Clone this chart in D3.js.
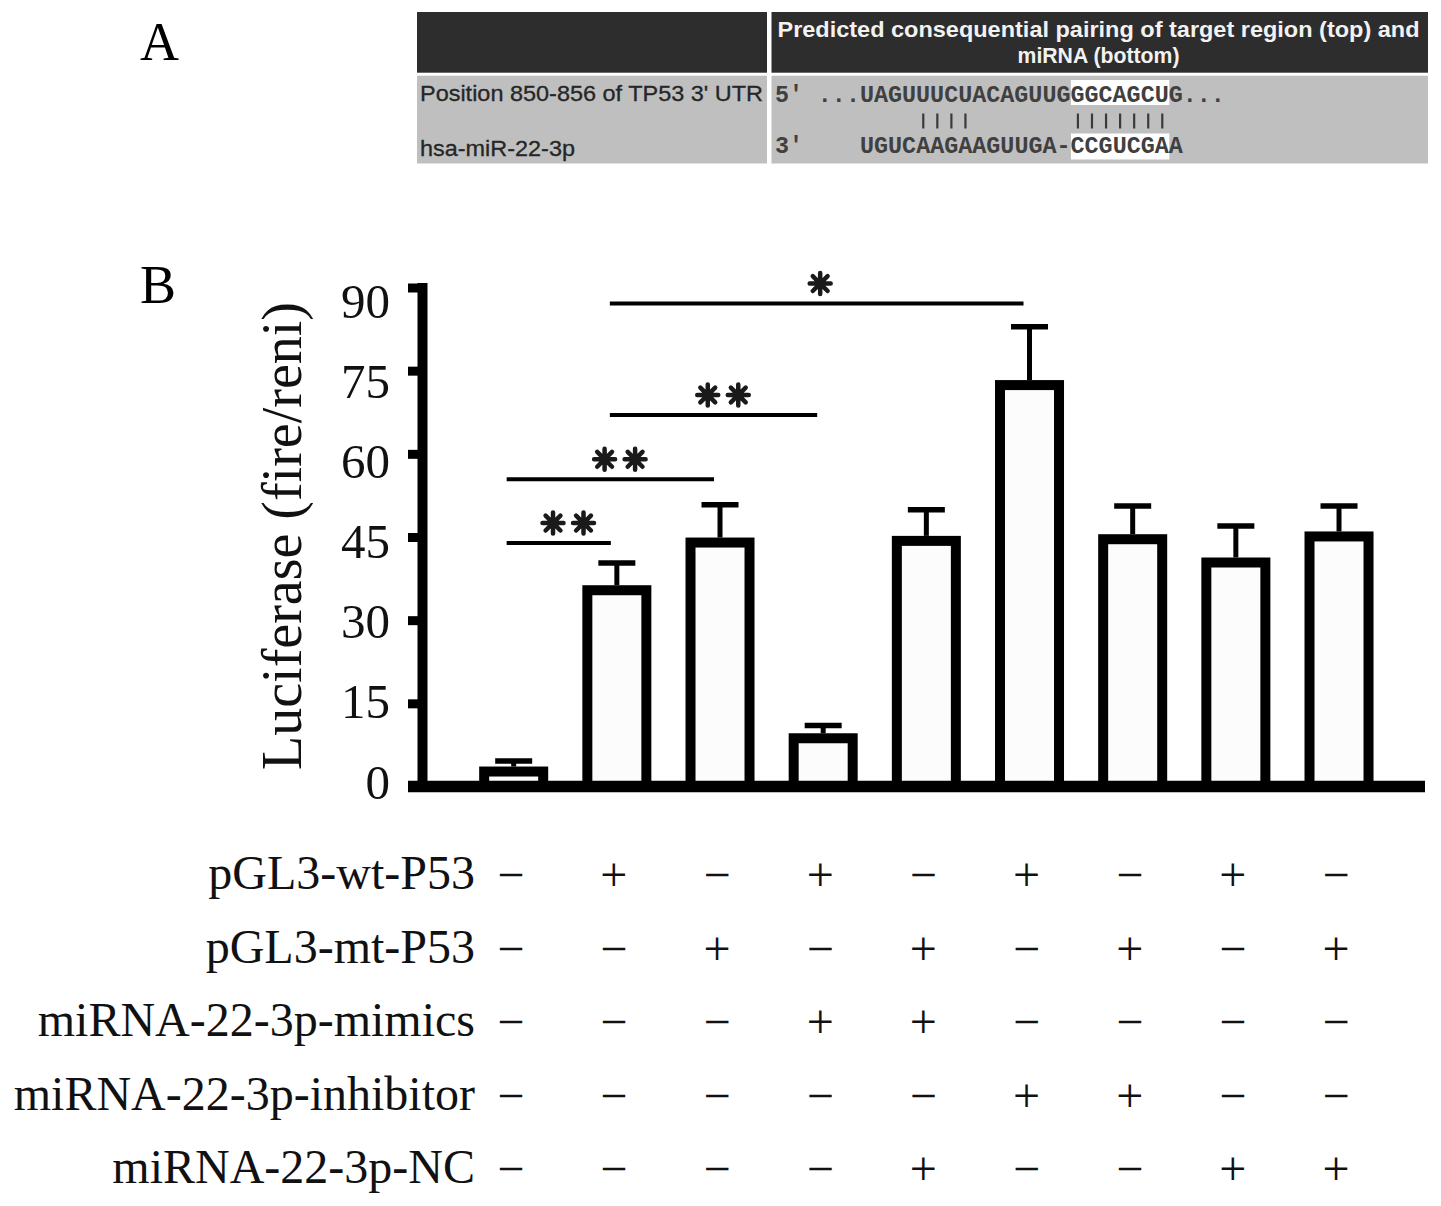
<!DOCTYPE html>
<html>
<head>
<meta charset="utf-8">
<script src="https://cdn.jsdelivr.net/npm/d3@7"></script>
<style>
  html, body { margin: 0; padding: 0; background: #fff; }
  svg { display: block; }
  .serif { font-family: "Liberation Serif", "Times New Roman", serif; }
  .sans { font-family: "Liberation Sans", Arial, sans-serif; }
  .mono { font-family: "Liberation Mono", "Courier New", monospace; white-space: pre; }
</style>
</head>
<body>
<svg id="fig" width="1441" height="1206"></svg>
<script>
// ---- panel A: predicted pairing table ----
const rowNames = ["Position 850-856 of TP53 3' UTR", "hsa-miR-22-3p"];
const headerLines = ["Predicted consequential pairing of target region (top) and", "miRNA (bottom)"];
const strandEnds = ["5'", "3'"];
const targetSeq = "...UAGUUUCUACAGUUGGGCAGCUG...";
const mirnaSeq = "UGUCAAGAAGUUGA-CCGUCGAA";
const pairedIdx = [4, 5, 6, 7, 15, 16, 17, 18, 19, 20, 21];
const seedRange = [15, 22];

// ---- panel B: luciferase bars ----
const groups = ["g1", "g2", "g3", "g4", "g5", "g6", "g7", "g8", "g9"];
const luciferase = [2.7, 35.4, 44.0, 8.7, 44.3, 72.4, 44.6, 40.4, 45.1];
const errUp = [1.9, 4.9, 6.8, 2.3, 5.6, 10.5, 6.0, 6.6, 5.5];
const yTicks = [0, 15, 30, 45, 60, 75, 90];

// significance brackets
const sigFrom = [0, 0, 1, 1];
const sigTo = [1, 2, 3, 5];
const sigLevel = [43.9, 55.4, 67.0, 87.1];
const sigStars = [2, 2, 2, 1];

// treatment matrix under the bars
const treatments = ["pGL3-wt-P53", "pGL3-mt-P53", "miRNA-22-3p-mimics", "miRNA-22-3p-inhibitor", "miRNA-22-3p-NC"];
const treatmentSigns = [
  "-+-+-+-+-",
  "--+-+-+-+",
  "---++----",
  "-----++--",
  "----+--++"
];

const svg = d3.select("#fig");

// ================= Panel A =================
const A = svg.append("g");
A.append("text").attr("class", "serif").attr("x", 140).attr("y", 60)
  .attr("font-size", 54).text("A");

const tbl = { x0: 417, x1: 1428, split: 769, top: 12, headB: 72.7, bodyT: 75.7, bottom: 163.5 };
A.append("rect").attr("x", tbl.x0).attr("y", tbl.top).attr("width", tbl.split - tbl.x0 - 2)
  .attr("height", tbl.headB - tbl.top).attr("fill", "#2d2d2d");
A.append("rect").attr("x", tbl.split + 2.5).attr("y", tbl.top).attr("width", tbl.x1 - tbl.split - 2.5)
  .attr("height", tbl.headB - tbl.top).attr("fill", "#2d2d2d");
A.append("rect").attr("x", tbl.x0).attr("y", tbl.bodyT).attr("width", tbl.split - tbl.x0 - 2)
  .attr("height", tbl.bottom - tbl.bodyT).attr("fill", "#bfbfbf");
A.append("rect").attr("x", tbl.split + 2.5).attr("y", tbl.bodyT).attr("width", tbl.x1 - tbl.split - 2.5)
  .attr("height", tbl.bottom - tbl.bodyT).attr("fill", "#bfbfbf");

const headCx = (tbl.split + tbl.x1) / 2;
A.selectAll("text.head").data(headerLines).enter().append("text")
  .attr("class", "sans head")
  .attr("x", headCx).attr("y", (d, i) => 37 + i * 26)
  .attr("text-anchor", "middle").attr("font-size", 21.5).attr("font-weight", "bold")
  .attr("fill", "#f2f2f2")
  .attr("textLength", (d, i) => i === 0 ? 642 : 162)
  .attr("lengthAdjust", "spacingAndGlyphs")
  .text(d => d);

const rowBase = [100.5, 156];
A.selectAll("text.rowname").data(rowNames).enter().append("text")
  .attr("class", "sans rowname")
  .attr("x", 420).attr("y", (d, i) => rowBase[i])
  .attr("font-size", 22).attr("fill", "#262626")
  .attr("stroke", "#262626").attr("stroke-width", 0.3)
  .attr("textLength", (d, i) => i === 0 ? 343 : 155)
  .attr("lengthAdjust", "spacingAndGlyphs")
  .text(d => d);

// character grid for the monospace sequences
const charW = 14.06;
const seqStart = 860;
const cx = d3.scaleLinear().domain([0, 1]).range([seqStart, seqStart + charW]);
const seqBase = [101.5, 153];

// white highlight of the seed match
A.selectAll("rect.seed").data([[80, 105], [133.5, 159.5]]).enter().append("rect")
  .attr("x", cx(seedRange[0])).attr("width", cx(seedRange[1]) - cx(seedRange[0]))
  .attr("y", d => d[0]).attr("height", d => d[1] - d[0]).attr("fill", "#ffffff");

A.selectAll("text.end").data(strandEnds).enter().append("text")
  .attr("class", "mono end").attr("x", 775).attr("y", (d, i) => seqBase[i])
  .attr("font-size", 23.4).attr("font-weight", "bold").attr("fill", "#404040").text(d => d);

A.append("text").attr("class", "mono").attr("x", cx(-3)).attr("y", seqBase[0])
  .attr("font-size", 23.4).attr("font-weight", "bold").attr("fill", "#404040").text(targetSeq);
A.append("text").attr("class", "mono").attr("x", cx(0)).attr("y", seqBase[1])
  .attr("font-size", 23.4).attr("font-weight", "bold").attr("fill", "#404040").text(mirnaSeq);

A.selectAll("line.pair").data(pairedIdx).enter().append("line")
  .attr("x1", d => cx(d + 0.5)).attr("x2", d => cx(d + 0.5))
  .attr("y1", 113.5).attr("y2", 128.5)
  .attr("stroke", "#3a3a3a").attr("stroke-width", 2.2);

// ================= Panel B =================
const B = svg.append("g");
B.append("text").attr("class", "serif").attr("x", 140).attr("y", 303)
  .attr("font-size", 54).text("B");

const axisX = 422;
const tickLen = 14;
const y = d3.scaleLinear().domain([0, 90]).range([786.5, 287.5]);
const yLab = d3.scaleLinear().domain([0, 90]).range([782, 301]); // label centres drift a little in the original
const x = d3.scaleBand().domain(groups).range([462.1, 1390.6])
  .paddingInner(0.428).paddingOuter(0.214);
const xc = i => x(groups[i]) + x.bandwidth() / 2;

// bars
B.selectAll("rect.bar").data(luciferase).enter().append("rect")
  .attr("class", "bar")
  .attr("x", (d, i) => x(groups[i])).attr("width", x.bandwidth())
  .attr("y", d => y(d)).attr("height", d => y(0) - y(d))
  .attr("fill", "#fcfcfc").attr("stroke", "#000").attr("stroke-width", 10);

// error bars
B.selectAll("line.err").data(luciferase).enter().append("line")
  .attr("x1", (d, i) => xc(i)).attr("x2", (d, i) => xc(i))
  .attr("y1", d => y(d) - 5).attr("y2", (d, i) => y(d + errUp[i]))
  .attr("stroke", "#000").attr("stroke-width", 5);
B.selectAll("line.cap").data(luciferase).enter().append("line")
  .attr("x1", (d, i) => xc(i) - 18.5).attr("x2", (d, i) => xc(i) + 18.5)
  .attr("y1", (d, i) => y(d + errUp[i])).attr("y2", (d, i) => y(d + errUp[i]))
  .attr("stroke", "#000").attr("stroke-width", 5.5);

// y axis
const yAxis = B.append("g").attr("transform", `translate(${axisX},0)`)
  .call(d3.axisLeft(y).tickValues(yTicks).tickSize(tickLen).tickSizeOuter(0).tickFormat(""));
yAxis.select(".domain").attr("stroke", "#000").attr("stroke-width", 10).attr("stroke-linecap", "square");
yAxis.selectAll(".tick line").attr("stroke", "#000").attr("stroke-width", 9);

B.selectAll("text.ylab").data(yTicks).enter().append("text")
  .attr("class", "serif ylab")
  .attr("x", axisX - tickLen - 18).attr("y", d => yLab(d)).attr("dy", "0.34em")
  .attr("text-anchor", "end").attr("font-size", 49).attr("fill", "#111")
  .text(d => d);

// x axis baseline
B.append("line")
  .attr("x1", axisX - tickLen).attr("x2", 1425)
  .attr("y1", y(0)).attr("y2", y(0))
  .attr("stroke", "#000").attr("stroke-width", 11.5);

// axis title
B.append("text").attr("class", "serif")
  .attr("transform", `translate(301,${(y(0) + y(90)) / 2 - 1}) rotate(-90)`)
  .attr("text-anchor", "middle").attr("font-size", 56).attr("fill", "#111")
  .text("Luciferase (fire/reni)");

// significance brackets
const sig = sigLevel.map((v, i) => ({ a: sigFrom[i], b: sigTo[i], v: v, n: sigStars[i] }));
B.selectAll("line.sig").data(sig).enter().append("line")
  .attr("x1", d => xc(d.a) - 7).attr("x2", d => xc(d.b) - 6)
  .attr("y1", d => y(d.v)).attr("y2", d => y(d.v))
  .attr("stroke", "#000").attr("stroke-width", 4);

// heavy eight-armed asterisks like in the original
const starArm = 10.5;
const starPath = d3.range(4).map(k => {
  const a = k * Math.PI / 4;
  const dx = Math.cos(a) * starArm, dy = Math.sin(a) * starArm;
  return `M${-dx},${-dy}L${dx},${dy}`;
}).join("");
const starSpots = [];
sig.forEach(s => {
  const mid = (xc(s.a) + xc(s.b)) / 2 + (s.n > 1 ? 3 : -3);
  d3.range(s.n).forEach(k => starSpots.push({ x: mid + (k - (s.n - 1) / 2) * 30.5, y: y(s.v) - 20 }));
});
B.selectAll("path.star").data(starSpots).enter().append("path")
  .attr("class", "star")
  .attr("transform", d => `translate(${d.x},${d.y})`)
  .attr("d", starPath)
  .attr("stroke", "#1a1a1a").attr("stroke-width", 4.5).attr("stroke-linecap", "round");

// treatment matrix
const rowY = d3.scalePoint().domain(treatments).range([889, 1183]);
B.selectAll("text.treat").data(treatments).enter().append("text")
  .attr("class", "serif treat")
  .attr("x", 475).attr("y", d => rowY(d))
  .attr("text-anchor", "end").attr("font-size", 48).attr("fill", "#111")
  .text(d => d);

treatments.forEach((t, r) => {
  B.selectAll("text.sign" + r).data(treatmentSigns[r].split("")).enter().append("text")
    .attr("class", "serif sign" + r)
    .attr("x", (d, i) => xc(i) - 3).attr("y", rowY(t) + 2)
    .attr("text-anchor", "middle").attr("font-size", 48).attr("fill", "#111")
    .text(d => d === "+" ? "+" : "\u2212");
});
</script>
</body>
</html>
